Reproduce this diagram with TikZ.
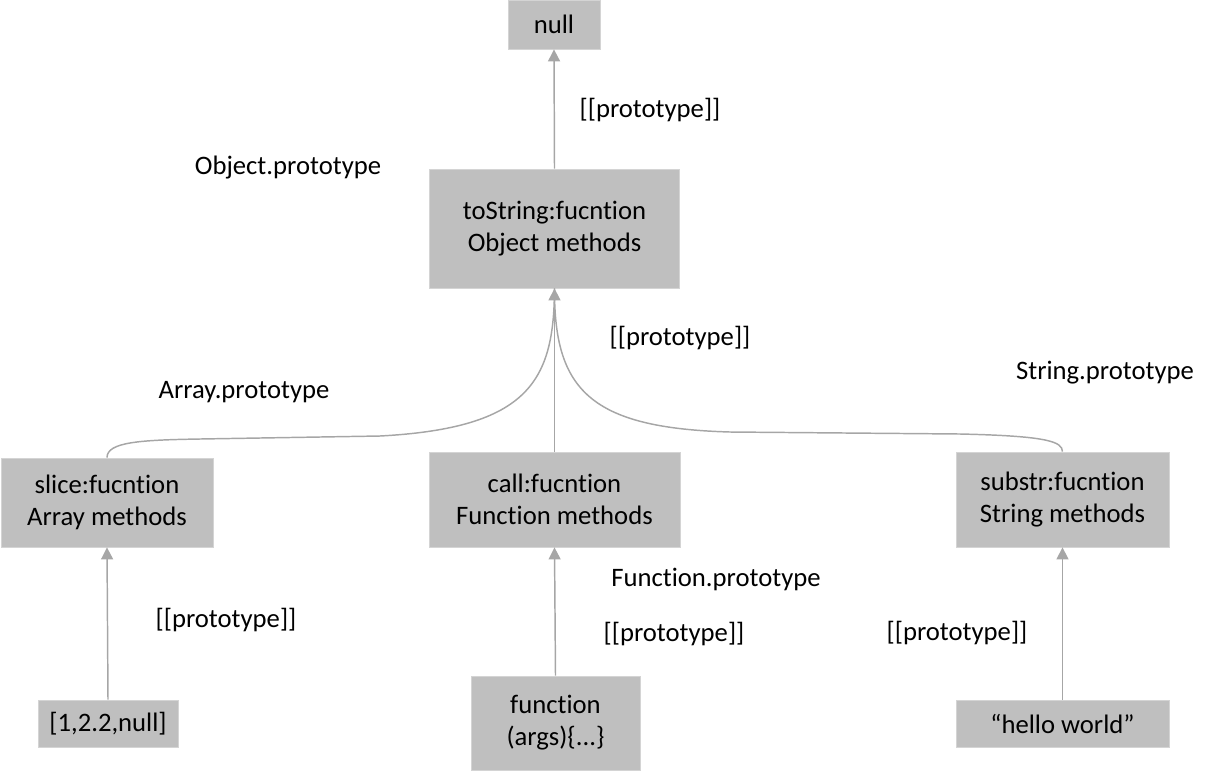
\documentclass[tikz,border=0pt]{standalone}
\usepackage{fontspec}
\setmainfont[RawFeature={-liga;-calt;-dlig;-clig}]{Carlito}
\usetikzlibrary{arrows.meta}
\definecolor{boxfill}{HTML}{BFBFBF}
\definecolor{boxline}{HTML}{D4D4D4}
\definecolor{arrowgray}{HTML}{A6A6A6}
\begin{document}
\begin{tikzpicture}[x=0.75pt,y=-0.75pt,
 box/.style={draw=boxline,line width=0.6pt,fill=boxfill,inner sep=0pt,align=center,font=\fontsize{20}{24}\selectfont},
 lbl/.style={inner sep=0pt,yshift=-2pt,font=\fontsize{20}{24}\selectfont},
 link/.style={draw=arrowgray,line width=1.1pt},
 tip/.style={link,-{Triangle[width=9pt,length=9pt]}}]
\useasboundingbox (0,0) rectangle (1232,772);
\node[box,minimum width=69pt,minimum height=36.75pt] (null) at (554,24.5) {null};
\node[box,minimum width=187.5pt,minimum height=89.25pt] (obj) at (554.5,228.5) {toString:fucntion\\Object methods};
\node[box,minimum width=159pt,minimum height=66.75pt] (slice) at (107,502.5) {slice:fucntion\\Array methods};
\node[box,minimum width=188.25pt,minimum height=71.25pt] (call) at (554.5,499.5) {call:fucntion\\Function methods};
\node[box,minimum width=159.75pt,minimum height=71.25pt] (substr) at (1062.5,499.5) {substr:fucntion\\String methods};
\node[box,minimum width=105pt,minimum height=35.25pt] (arr) at (108,723.5) {[1,2.2,null]};
\node[box,minimum width=126.75pt,minimum height=70.5pt] (fun) at (555.5,723) {function\\(args)\{...\}};
\node[box,minimum width=159.75pt,minimum height=35.25pt] (hello) at (1062.5,723.5) {“hello world”};

\node[lbl] (l1) at (650,107) {[[prototype]]};
\node[lbl] (l2) at (288,165) {Object.prototype};
\node[lbl] (l3) at (680,335) {[[prototype]]};
\node[lbl] (l4) at (244,389) {Array.prototype};
\node[lbl] (l5) at (1105,370) {String.prototype};
\node[lbl] (l6) at (716,577) {Function.prototype};
\node[lbl] (l7) at (226,617) {[[prototype]]};
\node[lbl] (l8) at (674,631) {[[prototype]]};
\node[lbl] (l9) at (957,630) {[[prototype]]};

\draw[link] (slice.north) .. controls (107,442) and (140,440) .. (200,439) -- (380,436) .. controls (530,428) and (554,380) .. (obj.south);
\draw[link] (substr.north) .. controls (1062,442) and (1050,436) .. (960,434) -- (730,432) .. controls (590,428) and (554,390) .. (obj.south);
\draw[tip] (call.north) -- (obj.south);
\draw[tip] (obj.north) -- (null.south);
\draw[tip] (arr.north) -- (slice.south);
\draw[tip] (fun.north) -- (call.south);
\draw[tip] (hello.north) -- (substr.south);
\end{tikzpicture}
\end{document}
